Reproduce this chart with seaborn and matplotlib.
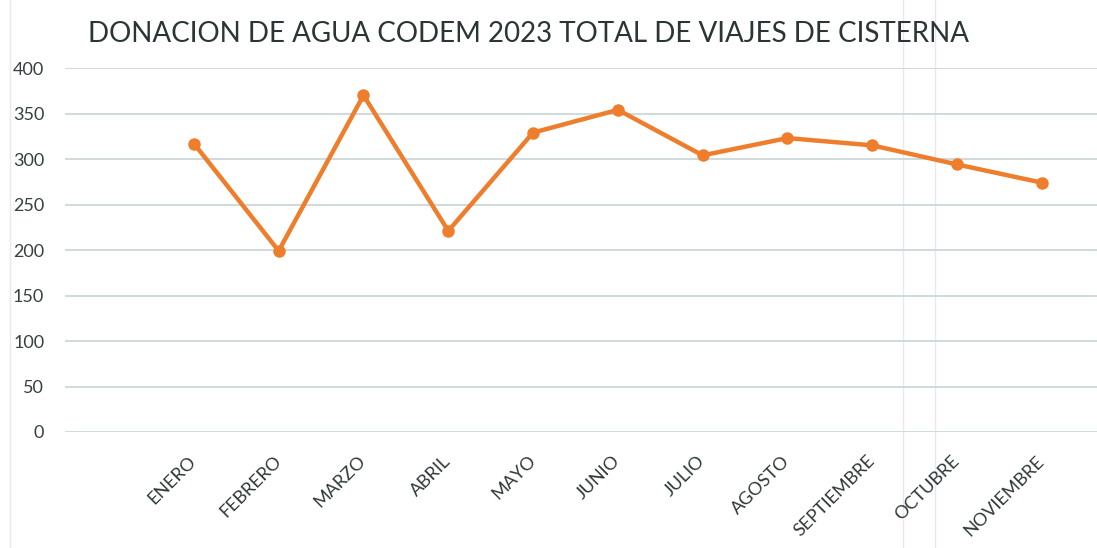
import pandas as pd
import seaborn as sns
import matplotlib.pyplot as plt
from matplotlib.lines import Line2D

# Datos
meses = ['ENERO', 'FEBRERO', 'MARZO', 'ABRIL', 'MAYO', 'JUNIO',
         'JULIO', 'AGOSTO', 'SEPTIEMBRE', 'OCTUBRE', 'NOVIEMBRE']
viajes = [317, 199, 370, 221, 329, 354, 304, 323, 315, 294, 274]
y_ticks = [0, 50, 100, 150, 200, 250, 300, 350, 400]

df = pd.DataFrame({'mes': meses, 'viajes': viajes})

sns.set_style('white')
plt.rcParams['font.family'] = ['Lato', 'DejaVu Sans']

fig = plt.figure(figsize=(10.97, 5.48), dpi=100)
ax = fig.add_axes([65 / 1097, 1 - 432 / 548, 1 - 65 / 1097, 364 / 548])
ax.patch.set_alpha(0)

sns.lineplot(data=df, x='mes', y='viajes', ax=ax, sort=False,
             color='#EE7D2C', linewidth=3.2, marker='o', markersize=9,
             markeredgewidth=0)

ax.set_ylim(0, 400)
ax.set_xlim(-1.52, 10.65)
ax.set_yticks(y_ticks)
ax.yaxis.grid(True, color='#d0d9dc', linewidth=1.4)
ax.set_axisbelow(True)
for s in ax.spines.values():
    s.set_visible(False)

ax.tick_params(axis='y', length=0, pad=15, labelsize=13, labelcolor='#364040')
ax.tick_params(axis='x', length=0, pad=19, labelsize=13, labelcolor='#2f3838')
plt.setp(ax.get_xticklabels(), rotation=45, ha='right', va='center',
         rotation_mode='anchor')
ax.set_xlabel('')
ax.set_ylabel('')

fig.text(88 / 1097, 1 - 34 / 548,
         'DONACION DE AGUA CODEM 2023 TOTAL DE VIAJES DE CISTERNA',
         fontsize=20, color='#2b3535', va='center', ha='left')

# lineas tenues del escaneo, detras de todo
for xp in [10, 903, 935]:
    fig.add_artist(Line2D([xp / 1097, xp / 1097], [0, 1], color='#e6e8f4',
                          linewidth=1, transform=fig.transFigure, zorder=-1))

fig.savefig('out.png', dpi=100, facecolor='white')
